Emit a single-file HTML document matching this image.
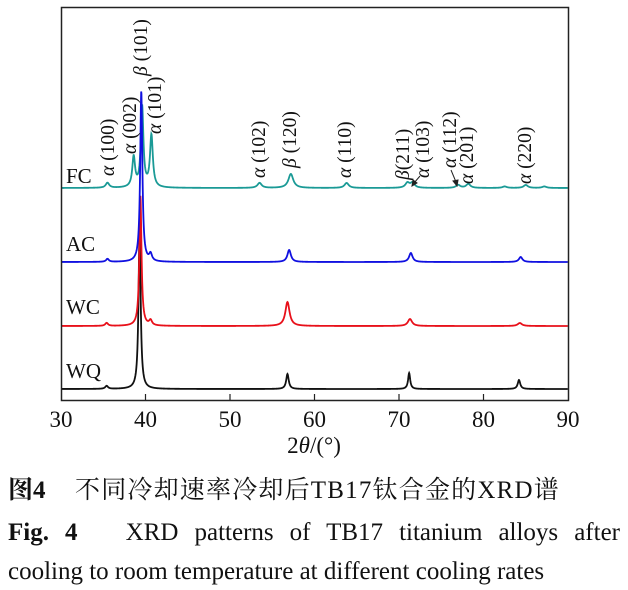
<!DOCTYPE html>
<html><head><meta charset="utf-8"><style>
html,body{margin:0;padding:0;background:#fff;width:628px;height:590px;overflow:hidden;position:relative}
svg{display:block}
text{font-family:"Liberation Serif","Noto Serif CJK SC",serif;fill:#111}
.cap{position:absolute;left:8px;width:612px;font-family:"Liberation Serif","Noto Serif CJK SC",serif;font-size:25px;color:#111;white-space:nowrap;line-height:1}
.j{text-align:justify;text-align-last:justify;white-space:normal}
</style></head><body>
<svg id="s" width="628" height="590" xmlns="http://www.w3.org/2000/svg">
<g id="curves"></g>
<rect x="61.5" y="7.5" width="507" height="393" fill="none" stroke="#222" stroke-width="1.5"/>
<g stroke="#222" stroke-width="1.2">
<line x1="145.5" y1="400" x2="145.5" y2="394"/><line x1="230" y1="400" x2="230" y2="394"/>
<line x1="314.5" y1="400" x2="314.5" y2="394"/><line x1="399" y1="400" x2="399" y2="394"/>
<line x1="483.5" y1="400" x2="483.5" y2="394"/>
</g>
<g font-size="23" text-anchor="middle">
<text x="61" y="427">30</text><text x="145.5" y="427">40</text><text x="230" y="427">50</text>
<text x="314.5" y="427">60</text><text x="399" y="427">70</text><text x="483.5" y="427">80</text><text x="568" y="427">90</text>
<text x="314" y="453">2<tspan font-style="italic">θ</tspan>/(°)</text>
</g>
<g font-size="21">
<text x="66" y="183">FC</text><text x="66" y="251">AC</text><text x="66" y="314">WC</text><text x="66" y="378">WQ</text>
</g>
<g font-size="19.5">
<text transform="translate(114,176) rotate(-90)"><tspan font-style="italic">α</tspan> (100)</text>
<text transform="translate(136,154) rotate(-90)"><tspan font-style="italic">α</tspan> (002)</text>
<text transform="translate(147,76) rotate(-90)"><tspan font-style="italic">β</tspan> (101)</text>
<text transform="translate(161,134) rotate(-90)"><tspan font-style="italic">α</tspan> (101)</text>
<text transform="translate(265,178) rotate(-90)"><tspan font-style="italic">α</tspan> (102)</text>
<text transform="translate(296,168) rotate(-90)"><tspan font-style="italic">β</tspan> (120)</text>
<text transform="translate(351,178) rotate(-90)"><tspan font-style="italic">α</tspan> (110)</text>
<text transform="translate(409,180) rotate(-90)"><tspan font-style="italic">β</tspan>(211)</text>
<text transform="translate(429,178) rotate(-90)"><tspan font-style="italic">α</tspan> (103)</text>
<text transform="translate(456,168) rotate(-90)"><tspan font-style="italic">α</tspan> (112)</text>
<text transform="translate(473,184) rotate(-90)"><tspan font-style="italic">α</tspan> (201)</text>
<text transform="translate(531,184) rotate(-90)"><tspan font-style="italic">α</tspan> (220)</text>
</g>
<g stroke="#222" stroke-width="1" fill="#222">
<line x1="420" y1="176" x2="414" y2="183"/><polygon points="412,186 413,180 417,183"/>
<line x1="451" y1="170" x2="456" y2="182"/><polygon points="457,186 453,181 458,180"/>
</g>
</svg>
<div class="cap" style="top:478px"><b>图4</b><span style="position:absolute;left:67px;letter-spacing:1.2px">不同冷却速率冷却后TB17钛合金的XRD谱</span></div>
<div class="cap j" style="top:520px"><b>Fig. 4</b> &nbsp; XRD patterns of TB17 titanium alloys after</div>
<div class="cap" style="top:559px">cooling to room temperature at different cooling rates</div>
<script>
function X(d){return 61+(d-30)*8.45;}
var series=[
 {c:"#1a9a96",b:188,p:[[35.5,5,.25],[38.6,30,.2],[39.6,81,.18],[40.7,52,.2],[53.5,5,.3],[57.2,14,.35],[63.8,5,.3],[71,5,.3],[71.6,5,.3],[77,3,.3],[78.2,4,.3],[85,3,.3],[82.5,1.5,.3],[87.2,1.5,.3]]},
 {c:"#111",b:389,p:[[35.4,3,.2],[39.3,160,.15],[56.8,15,.18],[71.2,16,.15],[84.2,9,.18]]},
 {c:"#e8101a",b:326,p:[[35.4,3,.2],[39.4,130,.15],[40.6,5,.2],[56.8,24,.3],[71.3,7,.3],[84.3,3,.3]]},
 {c:"#1010e0",b:262,p:[[35.5,3,.2],[39.5,171,.15],[40.6,7,.2],[57,12,.25],[71.4,9,.25],[84.4,5,.25]]}
];
var g=document.getElementById("curves"),h="";
series.forEach(function(s){var d="";for(var t=30.1;t<=90;t+=0.03){var y=s.b;s.p.forEach(function(p){var q=(t-p[0])/p[2];y-=p[1]/(1+q*q);});d+=(d?"L":"M")+X(t).toFixed(2)+","+y.toFixed(2);}
h+='<path d="'+d+'" fill="none" stroke="'+s.c+'" stroke-width="1.8"/>';});
g.innerHTML=h;
</script>
</body></html>
